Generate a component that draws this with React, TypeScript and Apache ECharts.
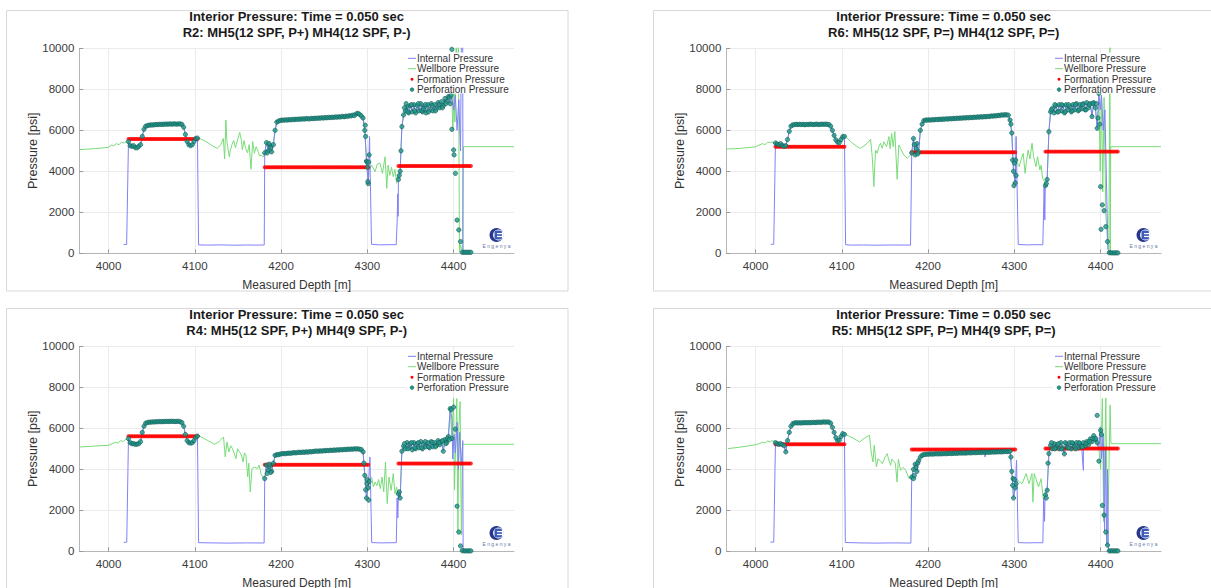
import React, { useEffect, useRef } from "react";
import * as echarts from "echarts";

type Pt = [number, number];

const FONT = "'Liberation Sans', Arial, Helvetica, sans-serif";
const TITLE_LINE1 = "Interior Pressure: Time = 0.050 sec";
const X_AXIS_NAME = "Measured Depth [m]";
const Y_AXIS_NAME = "Pressure [psi]";
const SERIES_NAMES = ["Internal Pressure", "Wellbore Pressure", "Formation Pressure", "Perforation Pressure"];
const X_MIN = 3966;
const X_MAX = 4470;
const Y_MIN = 0;
const Y_MAX = 10000;
const Y_STEP = 2000;
const LINE_PERF_LIMIT = 4397;

// perforation depths (m), shared by all runs
const mh5Depths = [4023,4025,4027,4029,4031,4033,4035,4037,4039,4041,4043,4045,4047,4049,4051,4053,4055,4057,4059,4061,4063,4065,4067,4069,4071,4073,4075,4077,4079,4081,4083,4085,4087,4089,4091,4093,4095,4097,4099,4101,4103];
const mh4aDepths = [4181,4183,4185,4187,4189,4191,4193,4195,4197,4199,4201,4203,4205,4207,4209,4211,4213,4215,4217,4219,4221,4223,4225,4227,4229,4231,4233,4235,4237,4239,4241,4243,4245,4247,4249,4251,4253,4255,4257,4259,4261,4263,4265,4267,4269,4271,4273,4275,4277,4279,4281,4283,4285,4287,4289,4291,4293,4295,4297,4299,4301];
const mh4bDepths = [4336,4338,4340,4342,4344,4346,4348,4350,4352,4354,4356,4358,4360,4362,4364,4366,4368,4370,4372,4374,4376,4378,4380,4382,4384,4386,4388,4390,4392,4394,4396,4398,4400,4402,4404,4406,4408,4410,4412,4414,4416,4418,4420];

// ---------- R2 ----------
const r2Perf1 = [5450,5250,5220,5250,5150,5150,5220,5300,5700,6050,6200,6230,6250,6260,6260,6270,6280,6280,6290,6290,6290,6300,6300,6300,6310,6300,6310,6310,6300,6310,6310,6290,6150,5800,5450,5300,5250,5300,5450,5600,5620];
const r2Perf2 = [4900,5400,5000,5250,4950,5300,6000,6400,6450,6480,6500,6490,6510,6500,6520,6510,6530,6520,6540,6530,6550,6540,6560,6550,6570,6560,6560,6580,6570,6590,6580,6600,6590,6610,6600,6620,6610,6630,6620,6640,6630,6650,6640,6660,6650,6680,6660,6690,6680,6710,6700,6740,6720,6800,6830,6780,6700,6600,6000,4500,3400];
const r2Perf3 = [3600,4000,6180,6750,6950,7150,6850,7200,6900,7250,6850,7200,6950,7300,6900,7150,6850,7250,7000,7300,6950,7250,7050,7350,7100,7400,7200,7550,7400,7650,7300,6050,5040,3900,1620,1140,570,50,50,50,50,50,50];
const r2PerfExtra: Pt[] = [[4184,4900],[4186,5350],[4188,5150],[4297.5,6250],[4298,5700],[4299.5,4450],[4300,4200],[4300.5,3500],[4301.5,4450],[4302,4800],[4337,3800],[4339,5000],[4343,7100],[4345,7300],[4347,6900],[4351,7250],[4355,6950],[4359,7300],[4363,6950],[4365,7050],[4367,7250],[4371,6900],[4375,7200],[4379,6950],[4383,7250],[4387,7100],[4391,7300],[4395,7600],[4397,7700],[4398,9950],[4400.5,4800]];
const r2Formation = [5580, 4195, 4260];
const r2WellGaps: Pt[] = [[3966,5060],[3975,5080],[3985,5110],[3995,5150],[4000,5170],[4003,5280],[4006,5250],[4009,5350],[4012,5300],[4015,5420],[4018,5380],[4020,5450],[4022,5350],
  [4104,5600],[4108,5560],[4114,5420],[4120,5250],[4126,5120],[4130,5300],[4133,5600],[4134.5,4600],[4136,6500],[4137,5500],[4138,5200],[4140,4700],[4141,5000],[4143,5300],[4145,5500],[4147,5150],[4148,5300],[4150,5600],[4152,5900],[4154,5500],[4155,5050],[4157,5500],[4159,5100],[4161,4900],[4163,5300],[4165,4100],[4167,5450],[4169,4880],[4171,5200],[4173,5000],[4175,4750],[4177,4800],[4179,4700],[4180,4750],
  [4302,4060],[4305,4300],[4309,3980],[4311.5,4350],[4314.5,4400],[4317.5,3900],[4320.5,4710],[4322.5,3170],[4324,4300],[4326,3800],[4328,4200],[4330,3740],[4332,4100],[4334,3415],[4335,3850],
  [4398,7700],[4399,6000],[4400.5,7800],[4401.5,6400],[4403,10500],[4404.5,8000],[4405.5,10500],[4406.8,60],[4408,400],[4410,60],[4411.4,5200],[4470,5200]];
const r2IntGaps: Pt[] = [[4017.4,430],[4020.9,430],[4104.3,410],[4115,400],[4130,410],[4145,395],[4160,405],[4170,400],[4180.4,405],
  [4302.5,5690],[4304.8,440],[4315,410],[4325,420],[4333.4,420],[4334.5,1500],[4335.2,2900],[4335.6,1800],
  [4398,7600],[4400,7000],[4402,7700],[4404,6000],[4406,7500],[4408,5000],[4409,10500],[4410.5,10500],[4411,0],[4420,40]];

// ---------- R6 ----------
const r6Perf1 = [5380,5330,5300,5350,5250,5220,5250,5550,5950,6200,6260,6280,6290,6280,6290,6280,6290,6270,6290,6280,6300,6290,6280,6290,6300,6280,6290,6300,6290,6300,6290,6280,6200,6000,5750,5530,5420,5400,5550,5690,5700];
const r6Perf2 = [4900,5600,4800,5350,4950,6000,6300,6470,6500,6500,6510,6500,6520,6510,6530,6520,6540,6530,6550,6540,6560,6550,6570,6560,6580,6570,6590,6580,6600,6590,6610,6600,6620,6610,6630,6620,6640,6630,6650,6640,6660,6650,6670,6660,6680,6670,6700,6690,6710,6700,6730,6720,6750,6740,6760,6750,6740,6500,5870,4000,3430];
const r6Perf3 = [3300,3600,5930,6900,7070,6850,7200,6900,7250,6950,7200,6850,7250,7000,7150,6900,7250,7000,7300,6950,7250,7050,7300,7000,7350,7100,7300,6670,7350,7100,6100,7800,3250,2360,2080,1300,570,30,20,20,20,20,20];
const r6PerfExtra: Pt[] = [[4184,5300],[4186,5100],[4188,4850],[4296,6300],[4298,4550],[4299.5,3300],[4300,4400],[4301.5,4550],[4302,3800],[4337,3400],[4343,7000],[4347,7250],[4351,6900],[4355,7250],[4359,6900],[4363,7250],[4367,6950],[4371,7250],[4375,7000],[4379,7250],[4383,7000],[4387,7250],[4391,7300],[4395,7300],[4397,6600],[4399,6300],[4400.5,1170]];
const r6Formation = [5200, 4925, 4960];
const r6WellGaps: Pt[] = [[3966,5090],[3975,5100],[3985,5130],[3995,5170],[4000,5200],[4004,5280],[4008,5350],[4011,5300],[4014,5420],[4017,5400],[4019,5440],[4022,5380],
  [4104.3,5690],[4110,5450],[4117.8,5200],[4121.7,5120],[4129.4,5366],[4133.3,5560],[4135.2,4710],[4137.1,3250],[4139,5040],[4141,4878],[4142.9,5200],[4144.8,5366],[4146.8,5120],[4148.7,5444],[4151.8,5200],[4154.5,5690],[4156,5100],[4157.6,5853],[4159.5,5200],[4161.4,5935],[4164.1,3610],[4166,5285],[4168,5120],[4171.8,4800],[4175.7,4630],[4179.6,4800],
  [4302,4550],[4305.6,4225],[4308,4600],[4310.2,4878],[4312.4,3900],[4314,4500],[4316,5040],[4318,4600],[4320.5,5366],[4322.3,4715],[4325,4225],[4326.9,4715],[4329.6,4064],[4331,4300],[4332.7,3660],[4335,3497],
  [4398,7700],[4399.5,4000],[4401,7700],[4402.5,3000],[4404,7600],[4406,2000],[4408,500],[4409.5,30],[4410.8,10500],[4411.2,30],[4411.7,5200],[4470,5200]];
const r6IntGaps: Pt[] = [[4017.6,440],[4021,440],[4104.3,420],[4110,400],[4125,405],[4140,395],[4160,405],[4179.6,400],
  [4302,5700],[4304.5,430],[4315,410],[4325,420],[4333,415],[4334.5,3250],[4335.3,1620],[4335.8,3300],
  [4398,7700],[4399.5,7000],[4401,7700],[4403,6000],[4405,7000],[4407,3000],[4408.5,200],[4410,30],[4420,20]];

// ---------- R4 ----------
const r4Perf1 = [5500,5300,5250,5250,5220,5230,5250,5350,5800,6100,6250,6280,6300,6300,6310,6310,6320,6320,6330,6320,6330,6330,6340,6330,6340,6340,6340,6330,6340,6340,6320,6280,6100,5700,5400,5300,5280,5300,5400,5560,5620];
const r4Perf2 = [3550,4200,3950,4150,3900,4300,4680,4710,4720,4740,4760,4770,4760,4780,4790,4780,4800,4810,4800,4820,4830,4820,4840,4830,4850,4840,4860,4850,4870,4880,4890,4880,4900,4890,4910,4900,4920,4910,4930,4920,4940,4930,4950,4940,4960,4950,4970,4960,4980,4970,4990,4980,5000,4990,5000,4980,4960,4850,3700,2600,3100];
const r4Perf3 = [2800,2600,4880,5130,5000,5300,5050,5250,4950,5300,5000,5250,5050,5350,5000,5250,5100,5300,5050,5350,5100,5300,5150,5400,5200,5350,4880,5450,5300,5600,6960,5500,7030,5960,2200,940,260,30,20,20,20,20,20];
const r4PerfExtra: Pt[] = [[4184,3800],[4186,4250],[4188,3850],[4296,4300],[4298,3000],[4299.5,3300],[4300,3500],[4301.5,2500],[4302,3400],[4337,2900],[4343,5250],[4347,5000],[4351,5300],[4355,5050],[4359,5300],[4363,5050],[4367,5350],[4371,5100],[4375,5300],[4379,5100],[4383,5300],[4387,5400],[4391,5250],[4393,5500],[4395,5450],[4397,6900]];
const r4Formation = [5610, 4220, 4280];
const r4WellGaps: Pt[] = [[3966,5088],[3980,5120],[3990,5150],[4000,5170],[4004,5250],[4008,5320],[4011,5280],[4014,5400],[4017,5350],[4020,5480],[4022,5400],
  [4104,5640],[4110,5520],[4116,5380],[4122.8,5220],[4128,5350],[4133.2,5577],[4135.2,4602],[4137.3,5333],[4139.4,4846],[4141.5,5150],[4143.5,5008],[4145.5,4800],[4147.6,4520],[4149.5,5000],[4151.8,4846],[4154,4700],[4155.9,4358],[4157.5,4800],[4159.2,4683],[4161.3,3626],[4162.5,4300],[4164.2,2894],[4166.3,4033],[4169.2,4114],[4172.5,4033],[4174.5,4200],[4176.6,3789],[4180,3545],
  [4302,3300],[4305,3600],[4307,3140],[4309,3380],[4311,3200],[4313,3500],[4315,3060],[4317,3625],[4319,2900],[4321,4360],[4323,2325],[4325,3625],[4327.6,2975],[4330,3790],[4332,2810],[4334,3140],[4335,2800],
  [4398,5500],[4400,7460],[4401,3000],[4403.7,7450],[4405,940],[4406,6000],[4407.5,7300],[4409,800],[4410.5,5220],[4470,5220]];
const r4IntGaps: Pt[] = [[4017.4,440],[4021,440],[4104.3,420],[4120,410],[4140,400],[4160,410],[4180.3,405],
  [4303,4600],[4305,424],[4315,410],[4325,415],[4333.5,420],[4334.5,2600],[4335.3,1630],[4335.8,2500],
  [4398,6500],[4399,4500],[4400.5,5700],[4402,4800],[4404,6300],[4405.5,4000],[4407,5800],[4409,4200],[4410.6,5400],[4411,0],[4420,20]];

// ---------- R5 ----------
const r5Perf1 = [5300,5250,5220,5250,5200,5150,4850,5400,5800,6100,6220,6260,6270,6260,6270,6260,6270,6280,6270,6280,6270,6280,6290,6280,6290,6300,6290,6300,6310,6300,6310,6300,6250,6050,5800,5550,5400,5420,5600,5740,5700];
const r5Perf2 = [3620,4000,4250,3900,4420,4600,4680,4720,4730,4740,4740,4750,4740,4750,4760,4750,4760,4750,4760,4770,4760,4770,4780,4770,4780,4790,4780,4790,4800,4790,4800,4790,4800,4810,4800,4810,4820,4810,4820,4830,4820,4830,4840,4830,4840,4830,4840,4850,4840,4850,4850,4860,4850,4860,4870,4860,4870,4880,3900,2600,3100];
const r5Perf3 = [2750,2980,4765,5170,5000,5250,5050,5200,5000,5300,5050,4750,5250,5050,5300,5000,5250,5100,5300,5050,5250,5100,5300,5150,5350,5200,5480,5350,5640,5450,5300,4400,5900,2240,1760,940,300,20,20,20,20,20,20];
const r5PerfExtra: Pt[] = [[4183,3545],[4184,3700],[4186,4100],[4188,4300],[4296,4600],[4298,3220],[4298.5,3545],[4300,3500],[4302,3300],[4337,2600],[4339,4300],[4343,5300],[4347,5000],[4351,5250],[4355,4990],[4359,5300],[4363,5050],[4367,5300],[4371,5000],[4375,5300],[4379,5100],[4383,5250],[4387,5350],[4391,5500],[4394.5,5500],[4396,6630],[4401,5700]];
const r5Formation = [5220, 4970, 5010];
const r5WellGaps: Pt[] = [[3968,5010],[3980,5070],[3990,5130],[4000,5200],[4004,5250],[4008,5320],[4011,5280],[4014,5380],[4017,5330],[4019,5400],[4022,5350],
  [4103.5,5740],[4108,5620],[4114,5500],[4120.5,5333],[4127,5545],[4132,5659],[4134,4845],[4136,4358],[4137.5,5171],[4140,4114],[4142,4520],[4144.5,4400],[4147,4276],[4150,4600],[4152.5,4765],[4154,4520],[4156.4,4195],[4158,4500],[4160,4400],[4162,4300],[4164,3380],[4165.5,4500],[4168,3950],[4171,4100],[4174,3950],[4178,3545],[4180,3600],
  [4302,3545],[4306,3380],[4309,3300],[4313.6,3790],[4317,3300],[4320.4,3790],[4321.5,2400],[4323,3790],[4325,3545],[4328,3140],[4331,3545],[4333.5,2570],[4335.5,2800],
  [4398,5000],[4400,4000],[4402,7450],[4403.5,1460],[4406,7480],[4408,300],[4411,7130],[4412,5250],[4470,5250]];
const r5IntGaps: Pt[] = [[4017,450],[4021,450],[4104,430],[4120,410],[4140,400],[4160,410],[4180,400],[4266,4600],[4380,3950],
  [4302.5,4440],[4304.5,424],[4315,410],[4325,420],[4333,415],[4334,2600],[4335,1460],[4335.5,2600],
  [4398,5000],[4399.5,6070],[4401,4500],[4403,5700],[4404.5,1000],[4405.5,5000],[4407,300],[4408,4000],[4409,30],[4420,20]];

const PANELS = [
  { sub: "R2: MH5(12 SPF, P+) MH4(12 SPF, P-)", perf: [r2Perf1, r2Perf2, r2Perf3], extra: r2PerfExtra, formation: r2Formation, well: r2WellGaps, internal: r2IntGaps },
  { sub: "R6: MH5(12 SPF, P=) MH4(12 SPF, P=)", perf: [r6Perf1, r6Perf2, r6Perf3], extra: r6PerfExtra, formation: r6Formation, well: r6WellGaps, internal: r6IntGaps },
  { sub: "R4: MH5(12 SPF, P+) MH4(9 SPF, P-)", perf: [r4Perf1, r4Perf2, r4Perf3], extra: r4PerfExtra, formation: r4Formation, well: r4WellGaps, internal: r4IntGaps },
  { sub: "R5: MH5(12 SPF, P=) MH4(9 SPF, P=)", perf: [r5Perf1, r5Perf2, r5Perf3], extra: r5PerfExtra, formation: r5Formation, well: r5WellGaps, internal: r5IntGaps },
];

// layout
const OFFSETS: Pt[] = [[0, 0], [647, 0], [0, 298], [647, 298]];
const GRID = { left: 79.3, top: 48.3, width: 434.7, height: 205 };
const BLUE = "#8080fa";
const GREEN = "#78dc78";
const RED = "#ff0000";
const TEAL = "#1f978a";
const TEAL_DARK = "#135d56";
const AXIS_COLOR = "#b5b5b5";
const GRID_COLOR = "#ebebeb";
const LABEL_COLOR = "#3a3a3a";
const NAVY = "#27378c";

const DEPTH_SETS = [mh5Depths, mh4aDepths, mh4bDepths];

function pairUp(depths: number[], values: number[]): Pt[] {
  return depths.map((d, i) => [d, values[i]] as Pt);
}
const byDepth = (a: Pt, b: Pt) => a[0] - b[0];

function buildOption() {
  const series: any[] = [];
  const graphics: any[] = [];
  PANELS.forEach((p, i) => {
    const perfPts: Pt[] = [];
    const formPts: Pt[] = [];
    DEPTH_SETS.forEach((ds, k) => {
      perfPts.push(...pairUp(ds, p.perf[k]));
      ds.forEach((d) => formPts.push([d, p.formation[k]]));
    });
    const linePerf = perfPts.filter((pt) => pt[0] <= LINE_PERF_LIMIT);
    const well = [...p.well, ...linePerf].sort(byDepth);
    const internal = [...p.internal, ...linePerf].sort(byDepth);
    const common = { xAxisIndex: i, yAxisIndex: i, silent: true, animation: false };
    series.push(
      { ...common, type: "line", name: SERIES_NAMES[1], data: well, symbol: "none", showSymbol: false, lineStyle: { color: GREEN, width: 1 }, itemStyle: { color: GREEN }, z: 2 },
      { ...common, type: "line", name: SERIES_NAMES[0], data: internal, symbol: "none", showSymbol: false, lineStyle: { color: BLUE, width: 1 }, itemStyle: { color: BLUE }, z: 3 },
      { ...common, type: "scatter", name: SERIES_NAMES[2], data: formPts, symbolSize: 4, itemStyle: { color: RED }, z: 4 },
      { ...common, type: "scatter", name: SERIES_NAMES[3], data: [...perfPts, ...p.extra], symbolSize: 4.3, itemStyle: { color: TEAL, borderColor: TEAL_DARK, borderWidth: 0.8 }, z: 5 }
    );

    const [ox, oy] = OFFSETS[i];
    const cx = GRID.left + GRID.width / 2 + ox;
    // frame
    graphics.push({ type: "rect", silent: true, z: 0, shape: { x: 6.5 + ox, y: 10.5 + oy, width: 561.5, height: 280.5 }, style: { fill: "none", stroke: "#d8d8d8", lineWidth: 1 } });
    // titles
    graphics.push({ type: "text", silent: true, z: 10, x: cx, y: 16.5 + oy, style: { text: TITLE_LINE1, font: `bold 13px ${FONT}`, fill: "#1a1a1a", align: "center", verticalAlign: "middle" } });
    graphics.push({ type: "text", silent: true, z: 10, x: cx, y: 32 + oy, style: { text: p.sub, font: `bold 13px ${FONT}`, fill: "#1a1a1a", align: "center", verticalAlign: "middle" } });
    // axis names
    graphics.push({ type: "text", silent: true, z: 10, x: cx, y: 284.5 + oy, style: { text: X_AXIS_NAME, font: `12px ${FONT}`, fill: "#333", align: "center", verticalAlign: "middle" } });
    graphics.push({ type: "text", silent: true, z: 10, x: 32.5 + ox, y: GRID.top + GRID.height / 2 + oy, rotation: Math.PI / 2, style: { text: Y_AXIS_NAME, font: `12.5px ${FONT}`, fill: "#333", align: "center", verticalAlign: "middle" } });
    // legend
    const lx = 408 + ox;
    const ly = [58.3, 68.7, 79.2, 89.6].map((v) => v + oy);
    graphics.push({ type: "rect", silent: true, z: 50, shape: { x: 406 + ox, y: 52.5 + oy, width: 107, height: 41 }, style: { fill: "#ffffff" } });
    graphics.push({ type: "line", silent: true, z: 51, shape: { x1: lx, y1: ly[0], x2: lx + 8, y2: ly[0] }, style: { stroke: BLUE, lineWidth: 1 } });
    graphics.push({ type: "line", silent: true, z: 51, shape: { x1: lx, y1: ly[1], x2: lx + 8, y2: ly[1] }, style: { stroke: GREEN, lineWidth: 1 } });
    graphics.push({ type: "circle", silent: true, z: 51, shape: { cx: lx + 4, cy: ly[2], r: 1.5 }, style: { fill: RED } });
    graphics.push({ type: "circle", silent: true, z: 51, shape: { cx: lx + 4, cy: ly[3], r: 1.9 }, style: { fill: TEAL, stroke: TEAL_DARK, lineWidth: 0.5 } });
    SERIES_NAMES.forEach((n, k) => {
      graphics.push({ type: "text", silent: true, z: 52, x: lx + 9, y: ly[k], style: { text: n, font: `10px ${FONT}`, fill: "#333", align: "left", verticalAlign: "middle" } });
    });
    // logo
    const gx = 496.5 + ox;
    const gy = 235 + oy;
    graphics.push({ type: "circle", silent: true, z: 20, shape: { cx: gx, cy: gy, r: 7 }, style: { fill: NAVY } });
    graphics.push({ type: "circle", silent: true, z: 21, shape: { cx: gx + 2, cy: gy, r: 5.4 }, style: { fill: "#ffffff" } });
    graphics.push({ type: "rect", silent: true, z: 22, shape: { x: gx - 2, y: gy - 4.5, width: 7.5, height: 9, r: 2 }, style: { fill: "#3d5cb8" } });
    graphics.push({ type: "rect", silent: true, z: 23, shape: { x: gx + 0.5, y: gy - 2, width: 5, height: 1.2 }, style: { fill: "#ffffff" } });
    graphics.push({ type: "rect", silent: true, z: 23, shape: { x: gx + 0.5, y: gy + 0.9, width: 5, height: 1.2 }, style: { fill: "#ffffff" } });
    graphics.push({ type: "text", silent: true, z: 23, x: gx, y: gy + 11, style: { text: "E n g e n y a", font: `5px ${FONT}`, fill: "#6a78a8", align: "center", verticalAlign: "middle" } });
  });

  const grid = OFFSETS.map(([ox, oy]) => ({ left: GRID.left + ox, top: GRID.top + oy, width: GRID.width, height: GRID.height, containLabel: false }));
  const xAxis = PANELS.map((_, i) => ({
    gridIndex: i, type: "value", min: X_MIN, max: X_MAX, splitNumber: 5,
    axisLine: { show: true, onZero: false, lineStyle: { color: AXIS_COLOR, width: 1 } },
    axisTick: { show: true, inside: true, length: 4, lineStyle: { color: "#9a9a9a" } },
    axisLabel: { show: true, showMinLabel: false, showMaxLabel: false, fontSize: 11.5, color: LABEL_COLOR, margin: 7, fontFamily: FONT, formatter: (v: number) => String(v) },
    splitLine: { show: true, showMinLine: false, showMaxLine: false, lineStyle: { color: GRID_COLOR, width: 1 } },
  }));
  const yAxis = PANELS.map((_, i) => ({
    gridIndex: i, type: "value", min: Y_MIN, max: Y_MAX, interval: Y_STEP,
    axisLine: { show: true, onZero: false, lineStyle: { color: AXIS_COLOR, width: 1 } },
    axisTick: { show: true, inside: true, length: 4, lineStyle: { color: "#9a9a9a" } },
    axisLabel: { show: true, fontSize: 11.5, color: LABEL_COLOR, margin: 5, fontFamily: FONT, formatter: (v: number) => String(v) },
    splitLine: { show: true, showMinLine: false, lineStyle: { color: GRID_COLOR, width: 1 } },
  }));

  return {
    animation: false,
    backgroundColor: "#ffffff",
    textStyle: { fontFamily: FONT },
    grid, xAxis, yAxis, series,
    graphic: { elements: graphics },
  };
}

export default function App() {
  const ref = useRef<HTMLDivElement>(null);
  useEffect(() => {
    if (!ref.current) return;
    const chart = echarts.init(ref.current, undefined, { renderer: "svg" });
    chart.setOption(buildOption() as any);
    return () => chart.dispose();
  }, []);
  return <div ref={ref} style={{ position: "fixed", left: 0, top: 0, width: 1211, height: 588, background: "#fff" }} />;
}
